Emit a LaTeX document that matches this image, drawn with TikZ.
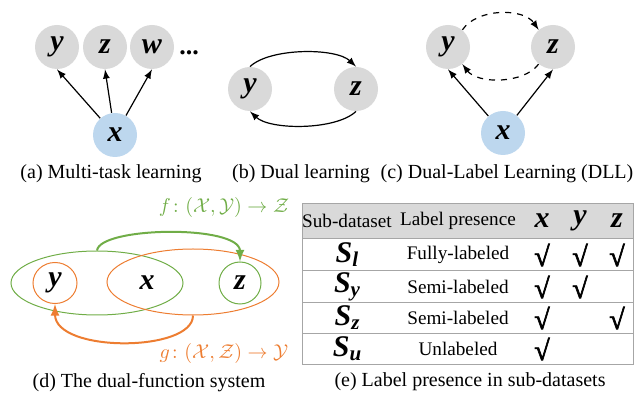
\documentclass[tikz,border=0pt]{standalone}
\usepackage{amsmath, amssymb}
\usepackage{fontspec}
\setmainfont{LiberationSerif}[
    Extension=.ttf,
    UprightFont=*-Regular,
    BoldFont=*-Bold,
    ItalicFont=*-Italic,
    BoldItalicFont=*-BoldItalic]
\newfontfamily\checkfont{LiberationSerif-Bold.ttf}[FakeBold=2.5]
\usepackage{xcolor}
\usepackage{tikz}
\usetikzlibrary{calc, shapes.geometric, positioning}

\definecolor{labgray}{HTML}{D9D9D9}
\definecolor{inpblue}{HTML}{BDD7EE}
\definecolor{fgreen}{HTML}{70AD47}
\definecolor{gorange}{HTML}{ED7D31}
\definecolor{rulegray}{HTML}{A6A6A6}

\newcommand{\varfont}{\fontsize{15}{15}\selectfont\bfseries\itshape}
\newcommand{\subsetname}[1]{{\varfont S}\raisebox{-0.45ex}{\fontsize{10.5}{10.5}\selectfont\bfseries\itshape #1}}
\newcommand{\yes}{{\checkfont\fontsize{14}{14}\selectfont √}}

\tikzset{
    lab/.style={circle, fill=labgray, minimum size=22pt, inner sep=0pt, font=\varfont},
    inp/.style={lab, fill=inpblue},
    var/.style={inner sep=0pt, font=\varfont},
    subcap/.style={font=\fontsize{10}{12}\selectfont},
    setg/.style={ellipse, draw=fgreen, line width=0.5pt, inner sep=0pt},
    seto/.style={ellipse, draw=gorange, line width=0.5pt, inner sep=0pt},
    cell/.style={font=\fontsize{9.6}{12}\selectfont}
}

\begin{document}
\begin{tikzpicture}[>=latex, x=0.5pt, y=-0.5pt]
    \useasboundingbox (0,0) rectangle (641,394);

    % (a) Multi-task learning
    \node[lab] (ay) at (57,47) {y};
    \node[lab] (az) at (105,47) {z};
    \node[lab] (aw) at (152,47) {w};
    \node[font=\fontsize{13}{13}\selectfont\bfseries] (adots) at (189,53) {...};
    \node[inp] (ax) at (115,135) {x};
    \draw[->, line width=0.6pt] (ax) -- (ay.south);
    \draw[->, line width=0.6pt] (ax) -- (az.south);
    \draw[->, line width=0.6pt] (ax) -- (aw.south);
    \node[subcap] (capa) at (111,174) {(a) Multi-task learning};

    % (b) Dual learning
    \node[lab] (by) at (250,89) {y};
    \node[lab] (bz) at (356,89) {z};
    \draw[->, line width=0.6pt] (by.north) .. controls +(20,-19) and +(-20,-19) .. (bz.north);
    \draw[->, line width=0.6pt] (bz.south) .. controls +(-20,19) and +(20,19) .. (by.south);
    \node[subcap] (capb) at (301,174) {(b) Dual learning};

    % (c) Dual-Label Learning
    \node[lab] (cy) at (448,47) {y};
    \node[lab] (cz) at (553,47) {z};
    \node[inp] (cx) at (503,133) {x};
    \draw[->, dashed, line width=0.6pt] (cy.50) .. controls +(15,-22) and +(-15,-22) .. (cz.130);
    \draw[->, dashed, line width=0.6pt] (cz.-130) .. controls +(-15,20) and +(15,20) .. (cy.-50);
    \draw[->, line width=0.6pt] (cx) -- (cy.south);
    \draw[->, line width=0.6pt] (cx) -- (cz.south);
    \node[subcap] (capc) at (507,174) {(c) Dual-Label Learning (DLL)};

    % (d) the dual-function system
    \node[setg, minimum width=86pt, minimum height=32pt] (dleft) at (97,283) {};
    \node[seto, minimum width=86pt, minimum height=33pt] (dright) at (193,282) {};
    \node[seto, minimum width=22pt, minimum height=20.5pt] (dy) at (55,283) {};
    \node[setg, minimum width=21pt, minimum height=21pt] (dz) at (240,283) {};
    \node[var] at (dy) {y};
    \node[var] (dx) at (147,283) {x};
    \node[var] at (dz) {z};
    \draw[->, fgreen, line width=1pt] (dleft.north) .. controls +(3,-24) and +(0,-37) .. (dz.north);
    \draw[->, gorange, line width=1pt] (dright.south) .. controls +(0,37) and +(0,49) .. (dy.south);
    \node[fgreen] (flab) at (224,208) {$f\colon(\mathcal{X},\mathcal{Y})\rightarrow\mathcal{Z}$};
    \node[gorange] (glab) at (224,353) {$g\colon(\mathcal{X},\mathcal{Z})\rightarrow\mathcal{Y}$};
    \node[subcap] (capd) at (149,383) {(d) The dual-function system};

    % (e) label presence table
    \fill[labgray] (302,204) rectangle (633,239);
    \draw[rulegray, line width=0.5pt] (302,204) rectangle (633,365);
    \foreach \ry in {239,271,303,334}
        \draw[rulegray, line width=0.5pt] (302,\ry) -- (633,\ry);

    \node[cell] (hset) at (347,221) {Sub-dataset};
    \node[cell] (hpres) at (458,221) {Label presence};
    \node[var] (hx) at (542,221) {x};
    \node[var] (hy) at (580,221) {y};
    \node[var] (hz) at (617,221) {z};

    \node (sl) at (347,255) {\subsetname{l}};
    \node[cell] (pl) at (458,255) {Fully-labeled};
    \node (lx) at (542,255) {\yes};
    \node (ly) at (580,255) {\yes};
    \node (lz) at (617,255) {\yes};

    \node (sy) at (347,287) {\subsetname{y}};
    \node[cell] (py) at (458,287) {Semi-labeled};
    \node (yx) at (542,287) {\yes};
    \node (yy) at (580,287) {\yes};

    \node (sz) at (347,318) {\subsetname{z}};
    \node[cell] (pz) at (458,318) {Semi-labeled};
    \node (zx) at (542,318) {\yes};
    \node (zz) at (617,318) {\yes};

    \node (su) at (347,349) {\subsetname{u}};
    \node[cell] (pu) at (458,349) {Unlabeled};
    \node (ux) at (542,349) {\yes};

    \node[subcap] (cape) at (470,382) {(e) Label presence in sub-datasets};
\end{tikzpicture}
\end{document}
